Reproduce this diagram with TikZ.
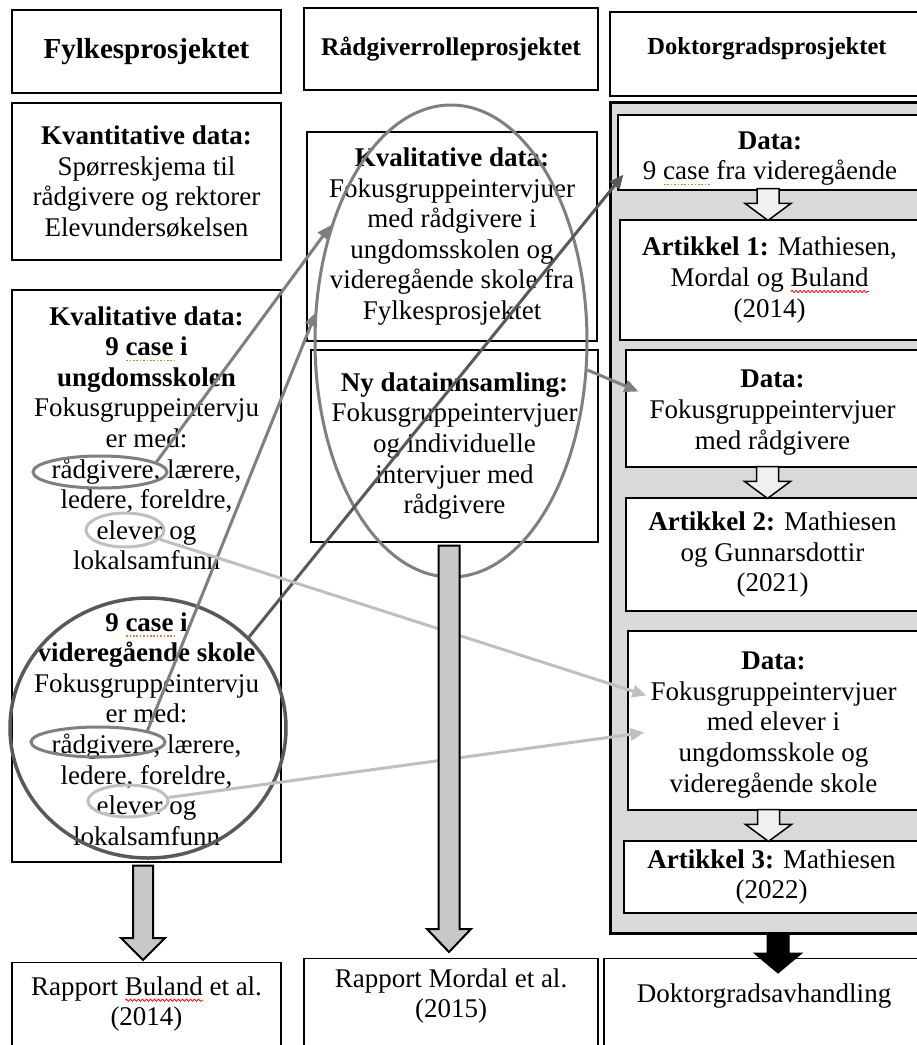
\documentclass[tikz,border=0pt]{standalone}
\usepackage{fontspec}
\setmainfont{Liberation Serif}
\usetikzlibrary{shapes.geometric,arrows.meta,calc,decorations.pathmorphing}

\definecolor{ringmid}{HTML}{7F7F7F}
\definecolor{ringdark}{HTML}{595959}
\definecolor{ringlight}{HTML}{BFBFBF}
\definecolor{panelgray}{HTML}{D9D9D9}
\definecolor{shaftgray}{HTML}{C8C8C8}
\definecolor{hollowfill}{HTML}{F0F0F0}
\definecolor{spellgold}{HTML}{C08A2E}

% proofing marks under single words
\newbox\markbox
\newdimen\markw
\newcommand\spellmark[2]{%
  \setbox\markbox\hbox{#2}\markw=\wd\markbox\relax
  \leavevmode\rlap{\smash{\tikz[baseline=0pt]\draw[#1] (0pt,-5pt) -- (\markw,-5pt);}}\box\markbox}
\newcommand\spelldot[1]{\spellmark{spellgold, line width=1.4pt, dash pattern=on 1.6pt off 1.8pt}{#1}}
\newcommand\spellwave[1]{\spellmark{red, line width=0.8pt, decorate,
  decoration={snake, amplitude=1.1pt, segment length=4pt}}{#1}}

\newcommand\bodyfont{\fontsize{27}{30.6}\selectfont}

% downward block arrow between two anchors:
% style, from, to, shaft half width, head half width, head length
\newcommand\blockdown[6]{%
  \draw[#1] let \p1=(#2), \p2=(#3) in
    (\x1-#4pt,\y1) -- (\x1+#4pt,\y1) -- (\x1+#4pt,\y2+#6pt) -- (\x1+#5pt,\y2+#6pt)
    -- (\x1,\y2) -- (\x1-#5pt,\y2+#6pt) -- (\x1-#4pt,\y2+#6pt) -- cycle;}

\tikzset{
  box/.style={draw=black, line width=1.2pt, fill=white, inner sep=0pt,
              align=center, font=\bodyfont},
  bodytext/.style={inner sep=0pt, align=center, font=\bodyfont},
  panel/.style={draw=black, line width=3pt, fill=panelgray, inner sep=0pt},
  ring/.style={ellipse, draw, line width=3pt, inner sep=0pt},
  link/.style={line width=3pt, -{Triangle[length=14pt,width=12pt]}},
  grayblock/.style={draw=black, line width=2pt, fill=shaftgray, line join=miter},
  hollowblock/.style={draw=black, line width=1.5pt, fill=hollowfill, line join=miter},
  solidblock/.style={draw=black, line width=1pt, fill=black, line join=miter},
}

\begin{document}
\begin{tikzpicture}[x=1pt,y=-1pt]
\useasboundingbox (0,0) rectangle (917,1045);
\fill[white] (0,0) rectangle (917,1045);

% ---------- headings ----------
\node[box, minimum width=269pt, minimum height=83pt] (T1) at (146.5,51.5)
  {\fontsize{29}{32}\selectfont\bfseries Fylkesprosjektet};
\node[box, minimum width=294pt, minimum height=82pt] (T2) at (451,49)
  {\fontsize{25.5}{30}\selectfont\bfseries Rådgiverrolleprosjektet};
\node[box, minimum width=309pt, minimum height=84pt] (T3) at (764.5,54) {};
\node[inner sep=0pt] (T3t) at (767,49)
  {\fontsize{24.5}{30}\selectfont\bfseries Doktorgradsprosjektet};

% ---------- Fylkesprosjektet ----------
\node[box, minimum width=269pt, minimum height=157pt] (K1) at (146.5,181.5)
  {\textbf{Kvantitative data:}\\Spørreskjema til\\rådgivere og rektorer\\Elevundersøkelsen};
\node[box, minimum width=269pt, minimum height=572pt] (K2) at (146.5,576)
  {\textbf{Kvalitative data:}\\\textbf{9 \spelldot{case} i}\\\textbf{ungdomsskolen}\\
   Fokusgruppeintervju\\er med:\\rådgivere, lærere,\\ledere, foreldre,\\elever og\\lokalsamfunn\\[30.6pt]
   \textbf{9 \spelldot{case} i}\\\textbf{videregående skole}\\
   Fokusgruppeintervju\\er med:\\rådgivere, lærere,\\ledere, foreldre,\\elever og\\lokalsamfunn};
\node[box, minimum width=269pt, minimum height=100pt, anchor=north] (R1) at (146.5,962) {};
\node[bodytext] (R1t) at (146.5,1004) {Rapport \spellwave{Buland} et al.\\(2014)};

% ---------- Rådgiverrolleprosjektet ----------
\node[box, minimum width=290pt, minimum height=209pt] (Q1) at (452,236.5)
  {\textbf{Kvalitative data:}\\Fokusgruppeintervjuer\\med rådgivere i\\ungdomsskolen og\\videregående skole fra\\Fylkesprosjektet};
\node[box, minimum width=287pt, minimum height=192pt] (Q2) at (454.5,446)
  {\textbf{Ny datainnsamling:}\\Fokusgruppeintervjuer\\og individuelle\\intervjuer med\\rådgivere};
\node[box, minimum width=294pt, minimum height=100pt, anchor=north] (R2) at (451,958) {};
\node[bodytext] (R2t) at (451,996) {Rapport Mordal et al.\\(2015)};

% ---------- Doktorgradsprosjektet ----------
\node[panel, minimum width=320pt, minimum height=831pt] (C) at (770,517.5) {};
\node[box, minimum width=301pt, minimum height=75pt] (D1) at (768.5,152.5) {};
\node[bodytext] (D1t) at (770,158.5) {\textbf{Data:}\\9 \spelldot{case} fra videregående};
\node[box, minimum width=299pt, minimum height=120pt] (A1) at (769.5,280)
  {\textbf{Artikkel 1:} Mathiesen,\\Mordal og \spellwave{Buland}\\(2014)};
\node[box, minimum width=293pt, minimum height=117pt] (D2) at (772.5,408.5) {};
\node[bodytext] (D2t) at (772.5,412.5) {\textbf{Data:}\\Fokusgruppeintervjuer\\med rådgivere};
\node[box, minimum width=293pt, minimum height=113pt] (A2) at (772.5,554.5)
  {\textbf{Artikkel 2:} Mathiesen\\og Gunnarsdottir\\(2021)};
\node[box, minimum width=291pt, minimum height=179pt] (D3) at (773.5,720.5) {};
\node[bodytext] (D3t) at (773.5,725) {\textbf{Data:}\\Fokusgruppeintervjuer\\med elever i\\ungdomsskole og\\videregående skole};
\node[box, minimum width=295pt, minimum height=72pt] (A3) at (771.5,877)
  {\textbf{Artikkel 3:} Mathiesen\\(2022)};
\node[box, minimum width=321pt, minimum height=100pt, anchor=north] (R3) at (764.5,958) {};
\node[bodytext] (R3t) at (764,996) {Doktorgradsavhandling};

% ---------- highlight rings ----------
\node[ring, draw=ringmid, minimum width=272pt, minimum height=472pt] (E2) at (451,341) {};
\node[ring, draw=ringdark, line width=3.5pt, minimum width=276pt, minimum height=260pt] (Ec) at (148,728) {};
\node[ring, draw=ringmid, minimum width=134pt, minimum height=32pt] (er1) at (100,472) {};
\node[ring, draw=ringlight, minimum width=78pt, minimum height=34pt] (eel1) at (125,530) {};
\node[ring, draw=ringmid, minimum width=134pt, minimum height=30pt] (er2) at (98,742) {};
\node[ring, draw=ringlight, minimum width=80pt, minimum height=32pt] (eel2) at (128,801) {};

% ---------- links ----------
\draw[link, ringmid] (er1.10) -- (E2.136);
\draw[link, ringmid, shorten >=-5pt] (er2.13) -- (E2.170);
\draw[link, ringdark] (Ec.42) -- ($(D1.south west)+(6,-16)$);
\draw[link, ringmid] (E2.-12) -- ($(D2.west)+(13,-17)$);
\draw[link, ringlight] (eel1.-15) -- ($(D3.west)+(19,-25)$);
\draw[link, ringlight] (eel2.5) -- ($(D3.west)+(17,12)$);

% ---------- block arrows ----------
\blockdown{grayblock}{[xshift=-3.5pt,yshift=-3pt]K2.south}{[yshift=2pt]R1.north}{10}{22}{22}
\blockdown{grayblock}{[xshift=-5.5pt,yshift=-3pt]Q2.south}{[yshift=6pt]R2.north}{10.5}{22}{23}
\blockdown{hollowblock}{[xshift=-0.5pt,yshift=2pt]D1.south}{[yshift=-1pt]A1.north}{11}{23}{17}
\blockdown{hollowblock}{[xshift=-5pt,yshift=1pt]D2.south}{[yshift=-1pt]A2.north}{11}{23}{17}
\blockdown{hollowblock}{[xshift=-5pt,yshift=1pt]D3.south}{[yshift=-1pt]A3.north}{11}{23}{17}
\blockdown{solidblock}{[xshift=8pt]C.south}{[yshift=-15pt]R3.north}{11}{24}{20}
\end{tikzpicture}
\end{document}
